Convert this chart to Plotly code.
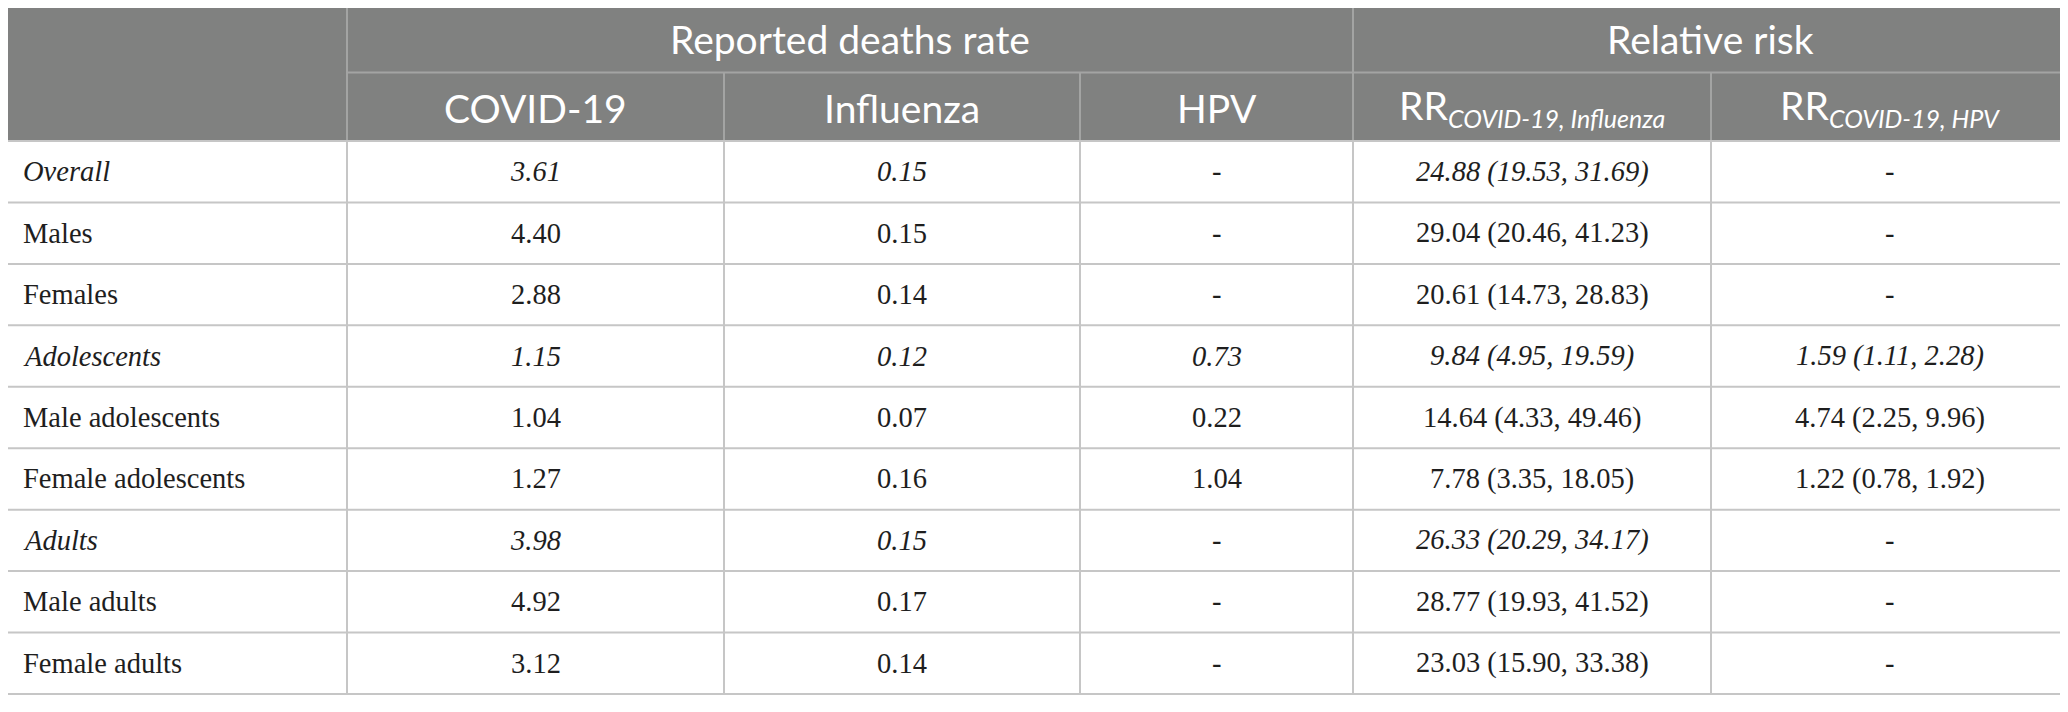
import plotly.graph_objects as go

# ---- data ----
groups = ["Overall", "Males", "Females", "Adolescents", "Male adolescents",
          "Female adolescents", "Adults", "Male adults", "Female adults"]
italic_rows = ["Overall", "Adolescents", "Adults"]
covid = ["3.61", "4.40", "2.88", "1.15", "1.04", "1.27", "3.98", "4.92", "3.12"]
influenza = ["0.15", "0.15", "0.14", "0.12", "0.07", "0.16", "0.15", "0.17", "0.14"]
hpv = ["-", "-", "-", "0.73", "0.22", "1.04", "-", "-", "-"]
rr_influenza = ["24.88 (19.53, 31.69)", "29.04 (20.46, 41.23)", "20.61 (14.73, 28.83)",
                "9.84 (4.95, 19.59)", "14.64 (4.33, 49.46)", "7.78 (3.35, 18.05)",
                "26.33 (20.29, 34.17)", "28.77 (19.93, 41.52)", "23.03 (15.90, 33.38)"]
rr_hpv = ["-", "-", "-", "1.59 (1.11, 2.28)", "4.74 (2.25, 9.96)", "1.22 (0.78, 1.92)",
          "-", "-", "-"]
group_headers = ["Reported deaths rate", "Relative risk"]
col_headers = ["COVID-19", "Influenza", "HPV",
               "RR<sub><span style='font-size:25px'><i>COVID-19, Influenza</i></span></sub>",
               "RR<sub><span style='font-size:25px'><i>COVID-19, HPV</i></span></sub>"]

# ---- layout constants ----
W, H = 2068, 712
OFF = 8  # page body margin
col_edges = [0, 347, 724, 1080, 1353, 1711, 2068]
y_top, y_h1, y_h2 = 5, 72.5, 141
row_h = (694 - y_h2) / len(groups)
HEADER_BG = "#808180"
HEADER_LINE = "#a3a4a3"
BODY_LINE = "#c6c6c6"
HEADER_FONT = dict(family="Lato, Open Sans, sans-serif", size=39, color="white")
BODY_FONT = dict(family="Liberation Serif, Times New Roman, serif", size=28.5, color="#1e1e1e")

fig = go.Figure()
shapes = []
annotations = []

# header background
shapes.append(dict(type="rect", x0=0, x1=W, y0=y_top, y1=y_h2,
                   fillcolor=HEADER_BG, line=dict(width=0), layer="below"))
# header lines
hl = dict(color=HEADER_LINE, width=2)
shapes.append(dict(type="line", x0=0, x1=W, y0=y_top, y1=y_top, line=hl))
shapes.append(dict(type="line", x0=col_edges[1], x1=W, y0=y_h1, y1=y_h1, line=hl))
for x in (col_edges[1], col_edges[4]):
    shapes.append(dict(type="line", x0=x, x1=x, y0=y_top, y1=y_h2, line=hl))
for x in (col_edges[2], col_edges[3], col_edges[5]):
    shapes.append(dict(type="line", x0=x, x1=x, y0=y_h1, y1=y_h2, line=hl))
shapes.append(dict(type="line", x0=1, x1=1, y0=y_top, y1=y_h2, line=hl))
shapes.append(dict(type="line", x0=W - 1, x1=W - 1, y0=y_top, y1=y_h2, line=hl))

# body lines
bl = dict(color=BODY_LINE, width=2)
y_end = y_h2 + row_h * len(groups)
for i in range(len(groups) + 1):
    y = y_h2 + i * row_h
    shapes.append(dict(type="line", x0=0, x1=W, y0=y, y1=y, line=bl))
for x in col_edges[1:-1]:
    shapes.append(dict(type="line", x0=x, x1=x, y0=y_h2, y1=y_end, line=bl))
shapes.append(dict(type="line", x0=1, x1=1, y0=y_h2, y1=y_end, line=bl))
shapes.append(dict(type="line", x0=W - 1, x1=W - 1, y0=y_h2, y1=y_end, line=bl))

for s in shapes:
    s.setdefault("xref", "x")
    s.setdefault("yref", "y")

# header texts
annotations.append(dict(x=(col_edges[1] + col_edges[4]) / 2, y=(y_top + y_h1) / 2,
                        text=group_headers[0], font=HEADER_FONT))
annotations.append(dict(x=(col_edges[4] + col_edges[6]) / 2, y=(y_top + y_h1) / 2,
                        text=group_headers[1], font=HEADER_FONT))
for j, t in enumerate(col_headers):
    annotations.append(dict(x=(col_edges[j + 1] + col_edges[j + 2]) / 2, y=(y_h1 + y_h2) / 2 + 1,
                            text=t, font=HEADER_FONT))

# body texts
columns = [covid, influenza, hpv, rr_influenza, rr_hpv]
for i, g in enumerate(groups):
    yc = y_h2 + (i + 0.5) * row_h
    it = g in italic_rows
    wrap = (lambda s: f"<i>{s}</i>") if it else (lambda s: s)
    annotations.append(dict(x=21, y=yc, text=wrap(g), xanchor="left", font=BODY_FONT))
    for j, col in enumerate(columns):
        annotations.append(dict(x=(col_edges[j + 1] + col_edges[j + 2]) / 2, y=yc,
                                text=wrap(col[i]), font=BODY_FONT))

for a in annotations:
    a.setdefault("xref", "x")
    a.setdefault("yref", "y")
    a.setdefault("showarrow", False)
    a.setdefault("xanchor", "center")
    a.setdefault("yanchor", "middle")

fig.update_layout(
    width=W - OFF, height=H - OFF,
    margin=dict(l=0, r=0, t=0, b=0),
    paper_bgcolor="white", plot_bgcolor="white",
    xaxis=dict(range=[OFF, W], visible=False, fixedrange=True),
    yaxis=dict(range=[H, OFF], visible=False, fixedrange=True),
    shapes=shapes, annotations=annotations,
    showlegend=False,
)
fig.write_html("out.html", config={"displayModeBar": False})
